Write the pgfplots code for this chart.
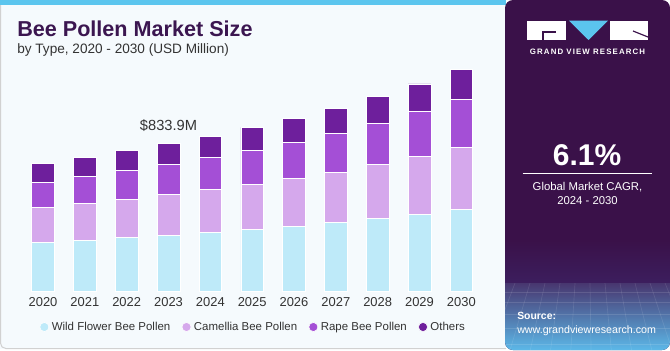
\documentclass[border=0pt]{standalone}
\usepackage{pgfplots}
\pgfplotsset{compat=1.18}
\usepackage{fontspec}
\setmainfont{Liberation Sans}
\newfontfamily\gvrfont[LetterSpace=14]{Liberation Sans Bold}
\definecolor{wild}{HTML}{BEEAF9}
\definecolor{cam}{HTML}{D5A8EC}
\definecolor{rape}{HTML}{A44FD6}
\definecolor{oth}{HTML}{6E1F9C}
\definecolor{panel}{HTML}{3A1149}
\definecolor{titlec}{HTML}{3B1650}
\definecolor{bgl}{HTML}{F5FAFD}
\definecolor{stripe}{HTML}{5BC5EE}
\definecolor{txt}{HTML}{333333}
\definecolor{band1}{HTML}{3C1E5E}
\definecolor{band2}{HTML}{48366F}
\definecolor{band3}{HTML}{5CB8E8}
\pgfplotstableread{
x wild cam rape oth
0 278.3 197.2 142.5 105.4
1 291.3 206.8 152.1 107.0
2 304.2 218.0 163.4 111.0
3 317.8 228.7 173.0 114.4
4 332.4 242.3 182.5 120.0
5 349.3 255.8 193.2 127.9
6 368.5 270.4 202.8 135.2
7 388.7 285.6 218.0 140.9
8 411.3 306.5 232.7 150.4
9 437.8 326.8 253.5 153.8
10 465.9 349.3 270.4 167.3
}\datatable
\begin{document}
\begin{tikzpicture}
\begin{scope}[x=0.75pt,y=-0.75pt]
\useasboundingbox (0,0) rectangle (670,350);
% left panel
\fill[bgl] (0,0) rectangle (506,349);
\draw[color=black!18, line width=0.75pt, rounded corners=4pt] (0.5,0) -- (0.5,348.5) -- (506,348.5);
\fill[stripe] (0,0) rectangle (506,5);
% right panel
\fill[panel, rounded corners=6pt] (505,0) rectangle (670,350);
\begin{scope}
\clip[rounded corners=6pt] (505,0) rectangle (670,350);
\shade[top color=panel, bottom color=band1] (505,240) rectangle (670,283.5);
\shade[top color=band2, bottom color=band3] (505,283) rectangle (670,350);
\foreach \yy in {292,302,314,328,344} {\draw[white, opacity=0.12, line width=0.5pt] (505,\yy) -- (670,\yy);}
\foreach \xx in {515,530,545,560,575,590,605,620,635,650,665} {\draw[white, opacity=0.10, line width=0.5pt] (\xx,283) -- ({\xx+(\xx-587)*0.35},350);}
\end{scope}
% title
\node[anchor=base west, inner sep=0, text=titlec, font=\fontsize{16.2}{19}\selectfont\bfseries] at (17,36) {Bee Pollen Market Size};
\node[anchor=base west, inner sep=0, text=txt, font=\fontsize{10.2}{12}\selectfont] at (17,53) {by Type, 2020 - 2030 (USD Million)};
% logo
\fill[white] (527,20.7) rectangle (566,40);
\draw[panel, line width=0.9pt] (543,40) -- (543,32) -- (556,32);
\fill[stripe] (569,20.7) -- (608,20.7) -- (588.5,40) -- cycle;
\fill[white] (610,20.7) rectangle (648,40);
\draw[panel, line width=0.9pt] (633,31) -- (648,37);
\node[anchor=base, inner sep=0, text=white, font=\fontsize{5.9}{7}\selectfont\gvrfont] at (587.5,54) {GRAND VIEW RESEARCH};
% CAGR
\node[anchor=base, inner sep=0, text=white, font=\fontsize{22.5}{25}\selectfont\bfseries] at (587,165) {6.1\%};
\draw[white, line width=0.75pt] (522.5,173.3) -- (652.3,173.3);
\node[anchor=base, inner sep=0, text=white, font=\fontsize{8.5}{11}\selectfont] at (587.5,190) {Global Market CAGR,};
\node[anchor=base, inner sep=0, text=white, font=\fontsize{8.5}{11}\selectfont] at (587.5,204) {2024 - 2030};
% source
\node[anchor=base west, inner sep=0, text=white, font=\fontsize{7.8}{10}\selectfont\bfseries] at (517,319) {Source:};
\node[anchor=base west, inner sep=0, text=white, font=\fontsize{8.0}{10}\selectfont] at (517,333) {www.grandviewresearch.com};
\end{scope}
\begin{axis}[
  at={(16.575pt,-218.775pt)}, anchor=south west,
  scale only axis, width=345.1pt, height=173.0pt,
  xmin=-0.5, xmax=10.5, ymin=0, ymax=1300,
  ybar stacked, bar width=16.95pt,
  axis line style={draw=none}, major tick length=0pt,
  ytick=\empty,
  xtick={0,...,10},
  xticklabels={2020,2021,2022,2023,2024,2025,2026,2027,2028,2029,2030},
  xticklabel style={font=\fontsize{9.7}{11}\selectfont, text=txt, yshift=-1pt},
  clip=false,
  legend columns=4,
  legend style={draw=none, fill=none, at={(0.503,-0.153)}, anchor=center,
    font=\fontsize{8.6}{11}\selectfont, text=txt,
    /tikz/every even column/.append style={column sep=6.5pt},
    /tikz/every odd column/.append style={column sep=0pt}},
  legend image code/.code={\fill[#1] (4pt,0pt) circle (3.4pt);},
]
\addplot[fill=wild, draw=white, line width=0.4pt] table[x=x, y=wild] {\datatable};
\addplot[fill=cam, draw=white, line width=0.4pt] table[x=x, y=cam] {\datatable};
\addplot[fill=rape, draw=white, line width=0.4pt] table[x=x, y=rape] {\datatable};
\addplot[fill=oth, draw=white, line width=0.4pt] table[x=x, y=oth] {\datatable};
\legend{Wild Flower Bee Pollen, Camellia Bee Pollen, Rape Bee Pollen, Others}
\node[anchor=base, font=\fontsize{11}{12}\selectfont, text=txt, inner sep=0] at (axis cs:3,907) {\$833.9M};
\end{axis}
\end{tikzpicture}
\end{document}
